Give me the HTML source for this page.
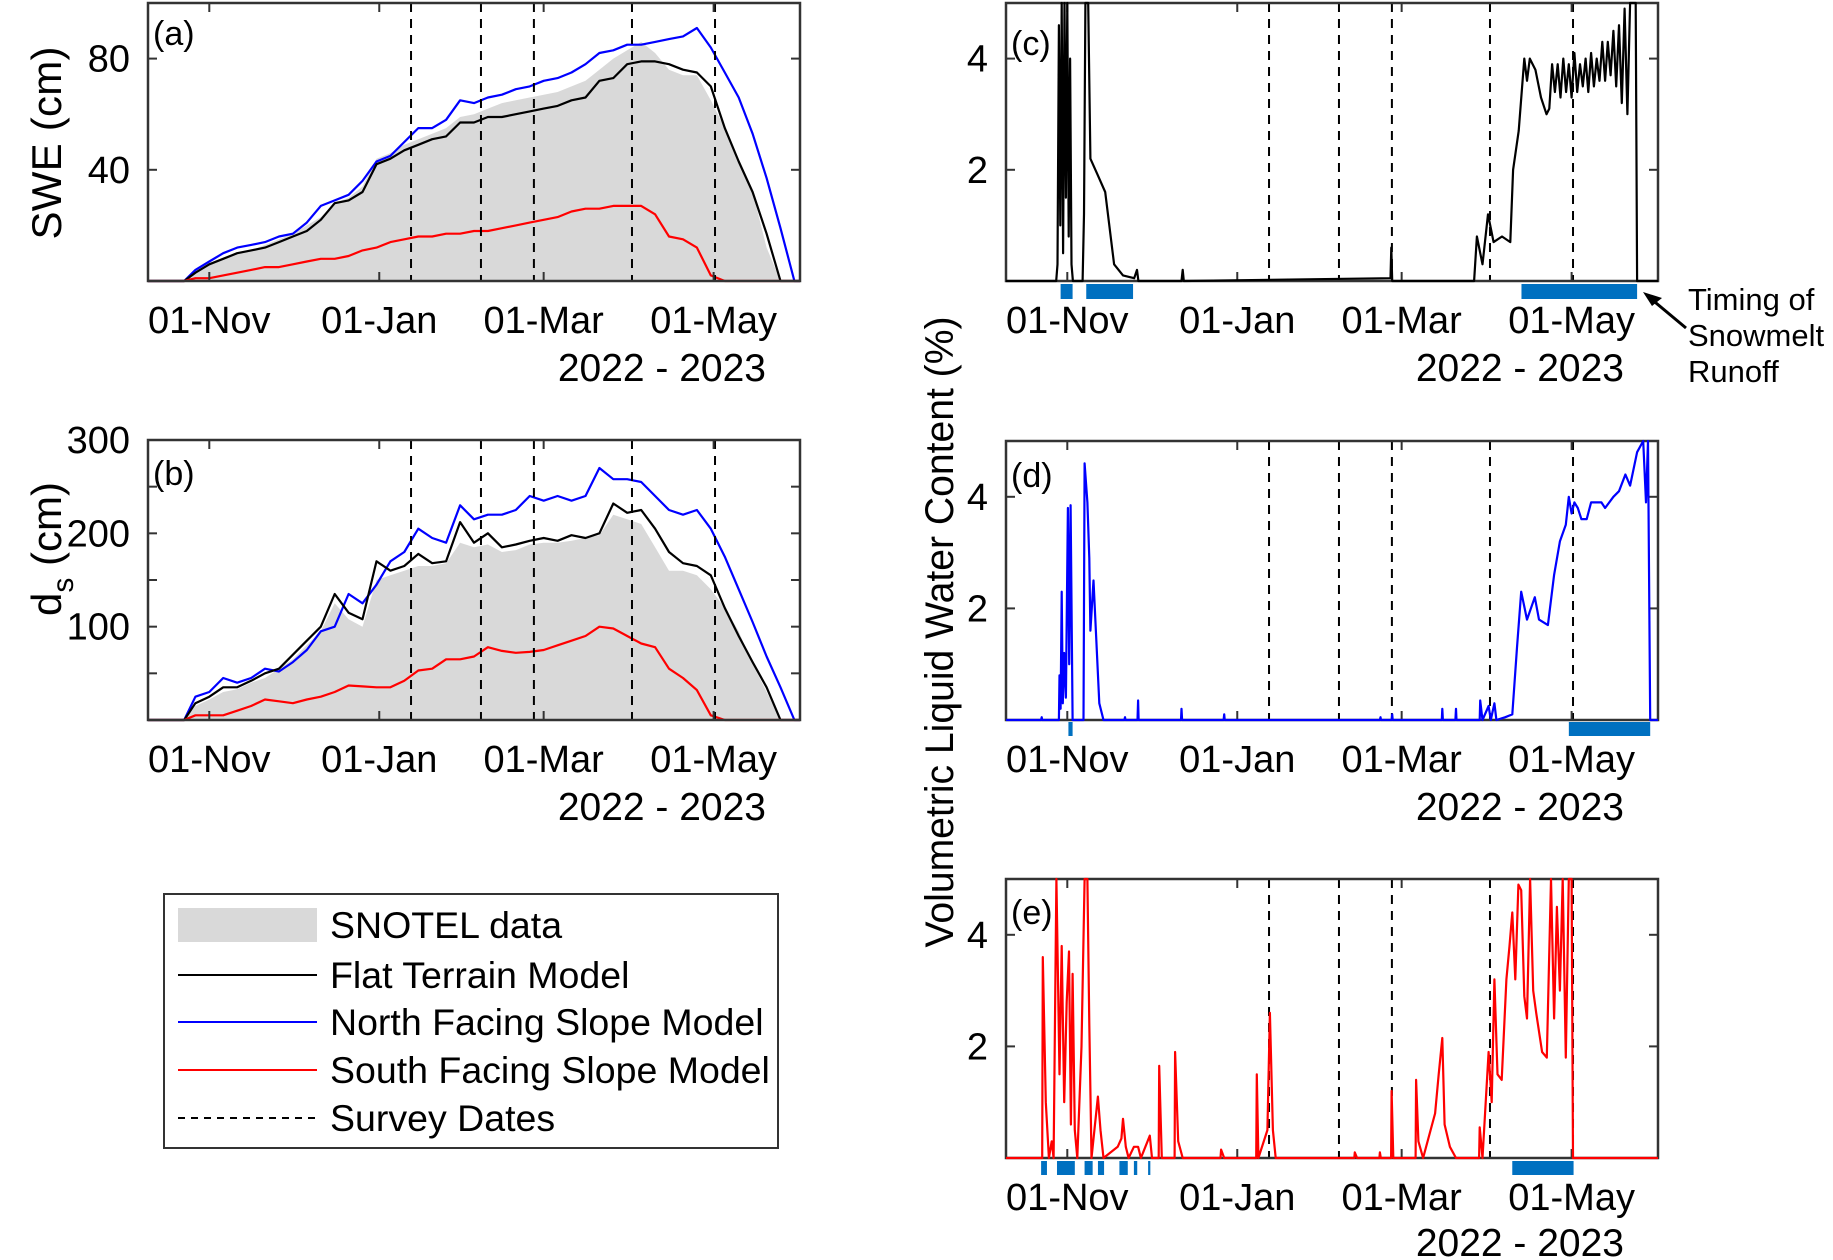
<!DOCTYPE html>
<html><head><meta charset="utf-8"><style>
html,body{margin:0;padding:0;background:#fff;}
svg{display:block;font-family:"Liberation Sans",Arial,sans-serif;}
</style></head><body>
<svg id="fig" width="1833" height="1260" viewBox="0 0 1833 1260" xmlns="http://www.w3.org/2000/svg">
<g id="layer"></g>
<text x="61" y="143" font-size="42" text-anchor="middle" transform="rotate(-90 61 143)" textLength="193">SWE (cm)</text>
<text x="61" y="549" font-size="42" text-anchor="middle" transform="rotate(-90 61 549)">d<tspan font-size="30" dy="12">s</tspan><tspan dy="-12"> (cm)</tspan></text>
<text x="941" y="620" font-size="40" text-anchor="middle" transform="rotate(-90 953 620)" textLength="631" lengthAdjust="spacingAndGlyphs">Volumetric Liquid Water Content (%)</text>
<g>
<text x="1688" y="310" font-size="31">Timing of</text>
<text x="1688" y="346" font-size="31">Snowmelt</text>
<text x="1688" y="382" font-size="31">Runoff</text>
<line x1="1686" y1="328" x2="1650" y2="298" stroke="#000" stroke-width="3"/>
<polygon points="1643,292 1662,298 1652,306" fill="#000"/>
</g>
<g>
<rect x="164" y="894" width="614" height="254" fill="#fff" stroke="#333" stroke-width="2"/>
<rect x="178" y="908" width="139" height="34" fill="#d9d9d9"/>
<text x="330" y="938" font-size="37.5">SNOTEL data</text>
<line x1="178" y1="975" x2="317" y2="975" stroke="#000" stroke-width="2"/>
<text x="330" y="988" font-size="37.5">Flat Terrain Model</text>
<line x1="178" y1="1022" x2="317" y2="1022" stroke="#0000ff" stroke-width="2"/>
<text x="330" y="1035" font-size="37.5">North Facing Slope Model</text>
<line x1="178" y1="1070" x2="317" y2="1070" stroke="#ff0000" stroke-width="2"/>
<text x="330" y="1083" font-size="37.5">South Facing Slope Model</text>
<line x1="178" y1="1118" x2="317" y2="1118" stroke="#000" stroke-width="2" stroke-dasharray="7,6"/>
<text x="330" y="1131" font-size="37.5">Survey Dates</text>
</g>
</svg>
<script>
// x values are days since 01-Nov-2022
const tickDays = [0, 61, 120, 181];
const tickLabels = ["01-Nov", "01-Jan", "01-Mar", "01-May"];
const surveyDays = [72.4, 97.5, 116.5, 151.7, 181.5];

const sweDays = [-22,-9,-5,0,5,10,15,20,25,30,35,40,45,50,55,60,65,70,75,80,85,90,95,100,105,110,115,120,125,130,135,140,145,150,155,160,165,170,175,180,185,190,195,200,205,210,212];
const sweSnotel = [0,0,3,6,8,10,11,13,15,17,20,23,28,30,34,44,46,49,51,53,55,59,60,62,64,65,66,67,68,70,72,76,80,83,86,82,76,74,74,65,55,44,32,12,0,0,0];
const sweFlat = [0,0,3,6,8,10,11,12,14,16,18,22,28,29,32,42,44,47,49,51,52,57,57,59,59,60,61,62,63,65,66,72,73,78,79,79,78,76,75,70,55,43,32,17,0,0,0];
const sweNorth = [0,0,4,7,10,12,13,14,16,17,21,27,29,31,36,43,45,50,55,55,58,65,64,66,67,69,70,72,73,75,78,82,83,85,85,86,87,88,91,84,75,66,53,37,19,0,0];
const sweSouth = [0,0,1,1,2,3,4,5,5,6,7,8,8,9,11,12,14,15,16,16,17,17,18,18,19,20,21,22,23,25,26,26,27,27,27,24,16,15,12,2,0,0,0,0,0,0,0];

const depthSnotel = [0,0,15,22,30,33,40,45,55,65,80,95,125,108,100,150,155,160,165,165,168,190,185,188,180,182,188,190,190,192,195,198,220,215,210,185,160,160,155,140,120,95,60,30,0,0,0];
const depthFlat = [0,0,18,25,35,35,42,50,55,70,85,100,135,115,108,170,160,165,178,168,170,212,190,200,185,188,192,195,192,198,195,200,232,222,225,205,180,168,165,155,120,90,62,35,0,0,0];
const depthNorth = [0,0,25,30,45,40,45,55,52,62,75,95,100,135,125,145,170,180,205,195,190,230,215,220,220,225,240,235,240,235,240,270,258,258,255,240,225,220,225,205,175,140,105,68,35,0,0];
const depthSouth = [0,0,5,5,5,10,15,22,20,18,22,25,30,37,36,35,35,42,53,55,65,65,68,78,74,72,73,75,80,85,90,100,98,90,82,78,55,45,32,5,0,0,0,0,0,0,0];

const lwcFlatDays = [-22,-4,-3.5,-3,-2.5,-2,-1.5,-1,-0.5,0,0.5,1,1.5,2,5.5,6,6.5,7.5,8.3,11,13.6,16.8,20,24,25,25.5,41,41.4,41.8,116,116.3,116.6,146,147,149,151,153,156,159,160,162,164,165,166,168,170,172,173,174,175,176,177,178,179,180,181,182,183,184,185,186,187,188,189,190,191,192,193,194,195,196,197,198,199,200,201,202,203,204,204.5,212];
const lwcFlat = [0,0,0.3,4.6,1.0,5,0.5,5,1.5,5,0.8,4,0.3,0,0,1.2,5,5,2.2,1.9,1.6,0.3,0.1,0.05,0.2,0,0,0.2,0,0.05,0.6,0,0,0.8,0.3,1.2,0.7,0.8,0.7,2.0,2.7,4.0,3.6,4.0,3.8,3.3,3.0,3.1,3.9,3.4,3.9,3.3,4.0,3.4,3.9,3.3,4.1,3.4,3.9,3.5,4.0,3.4,4.1,3.5,4.0,3.6,4.3,3.6,4.3,3.7,4.5,3.5,4.6,3.2,4.9,3.0,5,5,5,0,0];
const lwcNorthDays = [-22,-9.4,-9.2,-9,-3,-2.8,-2.4,-2,-1.6,-1.1,-0.5,0.2,0.7,1.2,1.9,5.8,6.2,7.2,7.9,8.3,9.4,11.5,13,20.5,20.7,20.9,25.2,25.4,25.6,40.8,41,41.2,56.1,56.3,56.5,112.2,112.4,112.6,116.4,116.6,116.8,134.4,134.6,134.8,139.3,139.5,139.7,148,148.2,149,151.2,152,153.3,154,157.2,159.7,161.4,162.9,165,167.8,169.3,172.5,174.7,176.8,178.9,180,181,182,183.2,184.5,186.4,188,191.7,193,196,198,200.3,202,204.5,206.7,207.7,208.4,209.2,212];
const lwcNorth = [0,0,0.05,0,0,0.8,0.2,2.3,0.3,1.2,0.4,3.8,1.0,3.85,0,0,4.6,3.9,2.9,1.6,2.5,0.3,0,0,0.05,0,0,0.35,0,0,0.2,0,0,0.1,0,0,0.05,0,0,0.1,0,0,0.2,0,0,0.2,0,0,0.35,0,0.25,0,0.3,0,0.05,0.1,1.3,2.3,1.8,2.2,1.8,1.7,2.6,3.2,3.5,4.0,3.7,3.9,3.8,3.6,3.6,3.9,3.9,3.8,4.0,4.1,4.4,4.2,4.8,5,3.9,5,0,0];
const lwcSouthDays = [-22,-9,-8.8,-7.7,-6.6,-5.6,-4.9,-3.9,-2.8,-2,-1.1,-0.2,0.6,1.3,1.9,2.7,3.6,5.1,6.2,7.2,7.9,8.7,11,11.9,13,18.1,19.4,20,21,22,23.9,25.4,26.4,29.6,30.4,32.8,33,33.9,38.5,38.7,39.8,41.4,55,55.2,56.3,67.8,68,68.6,71.8,72.7,73.8,74.8,103,103.2,104,112,112.2,112.5,116.2,116.4,117,125,125.2,126,127.7,132,133.3,134.6,135.4,137.3,139.5,147.8,148,149,151.2,152.3,153.3,154.4,155.9,157.6,158.7,159.7,160.8,161.9,162.9,164,165,166.1,167.2,168.3,170.4,172.1,173.6,174.7,175.7,176.8,177.8,178.9,180,181,181.5,212];
const lwcSouth = [0,0,3.6,1.0,0,0.3,0,5,1.5,3.8,1.0,2.8,3.7,0.6,3.3,0.5,0,2.0,5,5,2.4,0,1.1,0.5,0,0.2,0.35,0.7,0.2,0,0.2,0.2,0,0.4,0,0,1.65,0,0,1.9,0.3,0,0,0.15,0,0,1.5,0,0.5,2.6,0.5,0,0,0.1,0,0,0.1,0,0,1.2,0,0,1.4,0.3,0,0.8,1.5,2.15,0.6,0.2,0,0,0.55,0,1.9,1.0,3.2,1.5,1.4,3.2,3.8,4.4,3.2,4.9,4.8,2.9,2.5,5,3.0,2.6,1.9,1.8,5,2.5,4.5,3.0,5,1.8,5,5,0,0];

const runoffFlatStart = [-2.4, 6.8, 163];
const runoffFlatEnd = [1.9, 23.6, 204.5];
const runoffNorthStart = [0.4, 180];
const runoffNorthEnd = [1.9, 209.2];
const runoffSouthStart = [-9.4, -3.7, 6.2, 11, 18.7, 23.9, 29, 159.7];
const runoffSouthEnd = [-7.3, 2.7, 9.1, 13.2, 21.7, 25.1, 29.8, 181.7];

const NS = "http://www.w3.org/2000/svg";
const layer = document.getElementById('layer');
function mk(tag, attrs, parent) {
  const e = document.createElementNS(NS, tag);
  for (const k in attrs) e.setAttribute(k, attrs[k]);
  (parent || layer).appendChild(e);
  return e;
}
const DMIN = -22, DMAX = 212;
function makePanel(p) {
  const g = mk('g', {});
  
  
  p.g = g;
  p.x = d => p.x0 + (d - DMIN) / (DMAX - DMIN) * (p.x1 - p.x0);
  p.y = v => p.yb - v / p.vmax * (p.yb - p.yt);
  return p;
}
function linePath(p, days, vals, color, name) {
  let d = '';
  for (let i = 0; i < days.length; i++) d += (i ? 'L' : 'M') + p.x(days[i]).toFixed(1) + ',' + p.y(Math.min(vals[i], p.vmax)).toFixed(1);
  const e = mk('path', {d: d, fill: 'none', stroke: color, 'stroke-width': 2.2, 'stroke-linejoin': 'round'}, p.g);
  
  
}
function areaPath(p, days, vals, name) {
  let d = 'M' + p.x(days[0]) + ',' + p.yb;
  for (let i = 0; i < days.length; i++) d += 'L' + p.x(days[i]).toFixed(1) + ',' + p.y(vals[i]).toFixed(1);
  d += 'L' + p.x(days[days.length - 1]) + ',' + p.yb + 'Z';
  const e = mk('path', {d: d, fill: '#d9d9d9', stroke: 'none'}, p.g);
  
  
}
function frame(p, yTicks, yLabels, minorTicks, yearY, label) {
  for (let i = 0; i < surveyDays.length; i++) {
    const e = mk('line', {x1: p.x(surveyDays[i]), x2: p.x(surveyDays[i]), y1: p.yt, y2: p.yb, stroke: '#000', 'stroke-width': 2, 'stroke-dasharray': '9,7'}, p.g);
    
    
  }
  const all = yTicks.concat(minorTicks);
  for (let i = 0; i < all.length; i++) {
    const yy = p.y(all[i]);
    mk('line', {x1: p.x0, x2: p.x0 + 9, y1: yy, y2: yy, stroke: '#333', 'stroke-width': 2}, p.g);
    mk('line', {x1: p.x1, x2: p.x1 - 9, y1: yy, y2: yy, stroke: '#333', 'stroke-width': 2}, p.g);
  }
  for (let i = 0; i < yTicks.length; i++) {
    const t = mk('text', {x: p.x0 - 18, y: p.y(yTicks[i]) + 13, 'font-size': 38, 'text-anchor': 'end'}, p.g);
    t.textContent = yLabels[i];
    
    
  }
  for (let i = 0; i < tickDays.length; i++) {
    const xx = p.x(tickDays[i]);
    mk('line', {x1: xx, x2: xx, y1: p.yt, y2: p.yt + 9, stroke: '#333', 'stroke-width': 2}, p.g);
    mk('line', {x1: xx, x2: xx, y1: p.yb, y2: p.yb - 9, stroke: '#333', 'stroke-width': 2}, p.g);
    const t = mk('text', {x: xx, y: p.yb + 52, 'font-size': 38, 'text-anchor': 'middle'}, p.g);
    t.textContent = tickLabels[i];
    
    
  }
  const yr = mk('text', {x: p.x1 - 34, y: yearY, 'font-size': 39, 'text-anchor': 'end'}, p.g);
  yr.textContent = '2022 - 2023';
  
  
  const bx = mk('rect', {x: p.x0, y: p.yt, width: p.x1 - p.x0, height: p.yb - p.yt, fill: 'none', stroke: '#333', 'stroke-width': 2.5}, p.g);
  
  
  const pl = mk('text', {x: p.x0 + 5, y: p.yt + label[1], 'font-size': 34}, p.g);
  pl.textContent = label[0];
  
  
}
function bars(p, starts, ends, y, h) {
  for (let i = 0; i < starts.length; i++) {
    const e = mk('rect', {x: p.x(starts[i]), y: y, width: Math.max(2, p.x(ends[i]) - p.x(starts[i])), height: h, fill: '#0070c0'}, p.g);
    
    
  }
}

const pa = makePanel({name: 'panel-a-swe', x0: 148, x1: 800, yt: 3, yb: 281, vmax: 100});
areaPath(pa, sweDays, sweSnotel, 'snotel-swe-area');
linePath(pa, sweDays, sweNorth, '#0000ff', 'north-swe-line');
linePath(pa, sweDays, sweFlat, '#000', 'flat-swe-line');
linePath(pa, sweDays, sweSouth, '#ff0000', 'south-swe-line');
frame(pa, [40, 80], ['40', '80'], [], 381, ['(a)', 42]);

const pb = makePanel({name: 'panel-b-depth', x0: 148, x1: 800, yt: 440, yb: 720, vmax: 300});
areaPath(pb, sweDays, depthSnotel, 'snotel-depth-area');
linePath(pb, sweDays, depthNorth, '#0000ff', 'north-depth-line');
linePath(pb, sweDays, depthFlat, '#000', 'flat-depth-line');
linePath(pb, sweDays, depthSouth, '#ff0000', 'south-depth-line');
frame(pb, [100, 200, 300], ['100', '200', '300'], [50, 150, 250], 820, ['(b)', 45]);

const pc = makePanel({name: 'panel-c-vlwc-flat', x0: 1006, x1: 1658, yt: 3, yb: 281, vmax: 5});
frame(pc, [2, 4], ['2', '4'], [], 381, ['(c)', 52]);
linePath(pc, lwcFlatDays, lwcFlat, '#000', 'flat-vlwc-line');
bars(pc, runoffFlatStart, runoffFlatEnd, 284, 15);

const pd = makePanel({name: 'panel-d-vlwc-north', x0: 1006, x1: 1658, yt: 441, yb: 720, vmax: 5});
frame(pd, [2, 4], ['2', '4'], [], 820, ['(d)', 46]);
linePath(pd, lwcNorthDays, lwcNorth, '#0000ff', 'north-vlwc-line');
bars(pd, runoffNorthStart, runoffNorthEnd, 722, 14);

const pe = makePanel({name: 'panel-e-vlwc-south', x0: 1006, x1: 1658, yt: 879, yb: 1158, vmax: 5});
frame(pe, [2, 4], ['2', '4'], [], 1256, ['(e)', 45]);
linePath(pe, lwcSouthDays, lwcSouth, '#ff0000', 'south-vlwc-line');
bars(pe, runoffSouthStart, runoffSouthEnd, 1161, 14);
</script>
</body></html>
